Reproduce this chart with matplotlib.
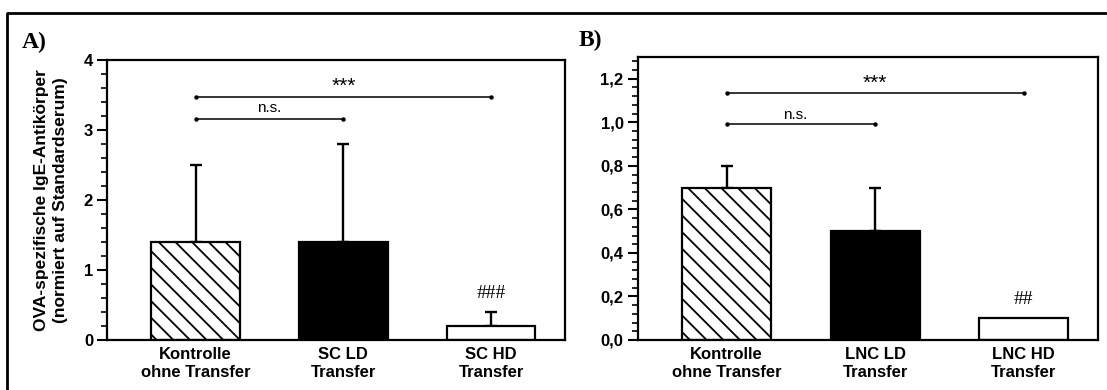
import numpy as np
import matplotlib
matplotlib.use('Agg')
import matplotlib.pyplot as plt
from matplotlib.lines import Line2D
from matplotlib.ticker import MultipleLocator, FixedLocator, FixedFormatter

plt.rcParams['font.family'] = ['Liberation Sans', 'DejaVu Sans']
plt.rcParams['hatch.linewidth'] = 1.3

# Daten
labels_a = ['Kontrolle\nohne Transfer', 'SC LD\nTransfer', 'SC HD\nTransfer']
werte_a = [1.4, 1.4, 0.2]
fehler_a = [1.1, 1.4, 0.2]

labels_b = ['Kontrolle\nohne Transfer', 'LNC LD\nTransfer', 'LNC HD\nTransfer']
werte_b = [0.7, 0.5, 0.1]
fehler_b = [0.1, 0.2, 0.0]

yticks_b = [0.0, 0.2, 0.4, 0.6, 0.8, 1.0, 1.2]
yticklabels_b = ['0,0', '0,2', '0,4', '0,6', '0,8', '1,0', '1,2']

# Signifikanz: (von, bis, linie_y, text_x, text_y, text)
sig_a = [(0, 1, 3.16, 0.5, 3.31, 'n.s.'), (0, 2, 3.47, 1.0, 3.63, '***')]
sig_b = [(0, 1, 0.992, 0.46, 1.035, 'n.s.'), (0, 2, 1.135, 1.0, 1.18, '***')]
raute_a = (2, 0.67, '###')
raute_b = (2, 0.185, '##')

W, H = 1107, 390
fig = plt.figure(figsize=(W / 100, H / 100), dpi=100)

ax_a = fig.add_axes([107 / W, 50 / H, 458 / W, 280 / H])
ax_b = fig.add_axes([637.5 / W, 50 / H, 460.5 / W, 283 / H])

faces = ['white', 'black', 'white']
hatches = ['\\\\', None, None]


def panel(ax, werte, fehler, labels, ylim):
    x = np.arange(len(werte))
    bars = ax.bar(x, werte, width=0.6, color=faces, edgecolor='black',
                  linewidth=1.6, zorder=2)
    for b, h in zip(bars, hatches):
        if h:
            b.set_hatch(h)
    for xi, w, e in zip(x, werte, fehler):
        if e > 0:
            ax.errorbar(xi, w, yerr=[[0], [e]], fmt='none', ecolor='black',
                        elinewidth=1.7, capsize=4, capthick=1.7, zorder=1)
    ax.set_xlim(-0.6, 2.5)
    ax.set_ylim(*ylim)
    ax.set_xticks(x)
    ax.set_xticklabels(labels, fontsize=12, fontweight='bold', linespacing=1.25)
    ax.tick_params(axis='x', length=0, pad=5)
    ax.tick_params(axis='y', which='major', length=7, width=1.5,
                   labelsize=12, pad=3)
    ax.tick_params(axis='y', which='minor', length=4, width=1.2)
    for s in ax.spines.values():
        s.set_linewidth(1.6)


def klammern(ax, sig):
    for a, b, y, tx, ty, t in sig:
        ax.plot([a, b], [y, y], color='black', lw=1.1, marker='o',
                markersize=2.2, zorder=3)
        ax.text(tx, ty, t, ha='center', va='center',
                fontsize=11 if t == 'n.s.' else 15)


panel(ax_a, werte_a, fehler_a, labels_a, (0, 4))
ax_a.yaxis.set_major_locator(MultipleLocator(1))
ax_a.yaxis.set_minor_locator(MultipleLocator(0.2))
for lab in ax_a.get_yticklabels():
    lab.set_fontweight('bold')
klammern(ax_a, sig_a)
ax_a.text(raute_a[0], raute_a[1], raute_a[2], ha='center', va='center',
          fontsize=14, family='Liberation Serif')
ax_a.set_ylabel('OVA-spezifische IgE-Antikörper\n(normiert auf Standardserum)',
                fontsize=12.5, fontweight='bold', linespacing=1.3)
ax_a.yaxis.set_label_coords(-0.085, 0.5)

panel(ax_b, werte_b, fehler_b, labels_b, (0, 1.3))
ax_b.yaxis.set_major_locator(FixedLocator(yticks_b))
ax_b.yaxis.set_major_formatter(FixedFormatter(yticklabels_b))
ax_b.yaxis.set_minor_locator(MultipleLocator(0.04))
for lab in ax_b.get_yticklabels():
    lab.set_fontweight('bold')
klammern(ax_b, sig_b)
ax_b.text(raute_b[0], raute_b[1], raute_b[2], ha='center', va='center',
          fontsize=14, family='Liberation Serif')

fig.text(34 / W, 1 - 42 / H, 'A)', fontsize=17, fontweight='bold',
         family='Liberation Serif', ha='center', va='center')
fig.text(590 / W, 1 - 40 / H, 'B)', fontsize=17, fontweight='bold',
         family='Liberation Serif', ha='center', va='center')

# Rahmen
fig.add_artist(Line2D([7 / W, 7 / W, 1], [0, 1 - 13 / H, 1 - 13 / H],
                      color='black', lw=2, transform=fig.transFigure))

fig.savefig('out.png', dpi=100)
